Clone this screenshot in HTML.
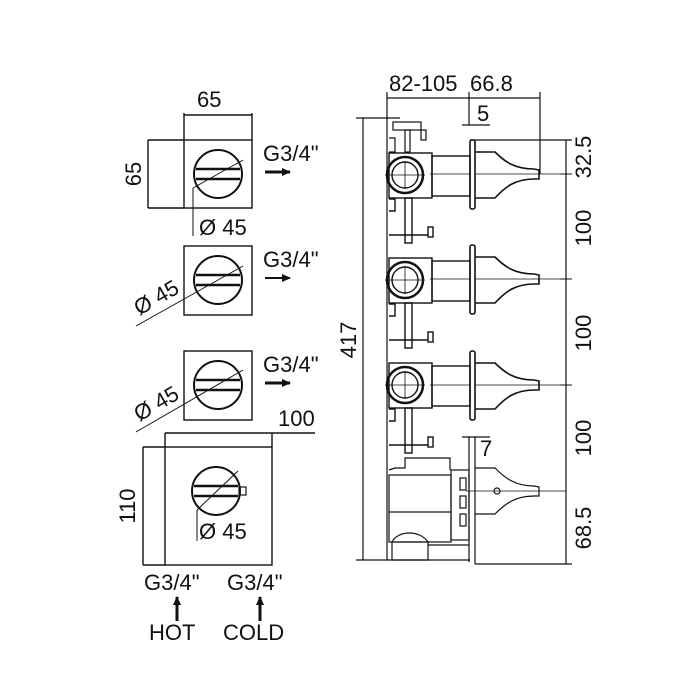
<!DOCTYPE html>
<html><head><meta charset="utf-8"><style>
html,body{margin:0;padding:0;background:#fff;}
svg{display:block;}
text{font-family:"Liberation Sans","DejaVu Sans",sans-serif;fill:#111;font-size:22px;}
</style></head><body>
<svg width="700" height="700" viewBox="0 0 700 700" xmlns="http://www.w3.org/2000/svg">
<defs>
<g id="knob" fill="none" stroke="#111">
  <circle cx="0" cy="0" r="24" stroke-width="2"/>
  <line x1="-22" y1="-5" x2="22" y2="-5" stroke-width="2.5"/>
  <line x1="-22" y1="5" x2="22" y2="5" stroke-width="2.5"/>
</g>
<g id="handle" fill="none" stroke="#111" stroke-width="1.6">
  <rect x="470" y="-34" width="5" height="69" rx="2"/>
  <path d="M475,-22 L495,-22 C505,-12 515,-5 534,-5 L539,-4 L539,5 L534,5 C515,5 505,13 495,24 L475,24"/>
  <line x1="430" y1="0" x2="470" y2="0" stroke-width="0.8"/>
  <line x1="475" y1="0" x2="570" y2="0" stroke-width="0.8"/>
</g>
<g id="valve" fill="none" stroke="#111" stroke-width="1.4">
  <rect x="389" y="-22" width="43" height="45"/>
  <rect x="432" y="-19" width="38" height="40"/>
  <circle cx="405" cy="0" r="18" stroke-width="2.5"/>
  <circle cx="405" cy="0" r="13"/>
  <line x1="385" y1="0" x2="425" y2="0" stroke-width="0.8"/>
  <line x1="405" y1="-14" x2="405" y2="14" stroke-width="0.8"/>
  <rect x="405" y="23" width="7" height="45"/>
  <line x1="389" y1="60" x2="428" y2="60"/>
  <rect x="428" y="52" width="5" height="10"/>
  <path d="M389,24 L395,24 L395,36 L389,36"/>
</g>
<marker id="ar" markerUnits="userSpaceOnUse" markerWidth="9" markerHeight="9" refX="8" refY="4.5" orient="auto"><path d="M0,0.5 L9,4.5 L0,8.5 z" fill="#111"/></marker>
</defs>

<g fill="none" stroke="#111" stroke-width="1.4">
  <rect x="184" y="140" width="68" height="68"/>
  <line x1="184" y1="113" x2="184" y2="140"/><line x1="252" y1="113" x2="252" y2="140"/>
  <line x1="184" y1="115" x2="252" y2="115"/>
  <line x1="148" y1="140" x2="184" y2="140"/><line x1="148" y1="208" x2="184" y2="208"/>
  <line x1="148" y1="140" x2="148" y2="208"/>
  <line x1="193" y1="188" x2="243" y2="160" stroke-width="1"/>
  <line x1="193" y1="188" x2="193" y2="236" stroke-width="1"/>
  <rect x="184" y="246" width="68" height="69"/>
  <line x1="136" y1="326" x2="243" y2="266" stroke-width="1"/>
  <rect x="184" y="351" width="68" height="69"/>
  <line x1="136" y1="432" x2="243" y2="370" stroke-width="1"/>
  <rect x="165" y="447" width="107" height="118"/>
  <line x1="165" y1="433" x2="165" y2="447"/><line x1="272" y1="433" x2="272" y2="447"/>
  <line x1="165" y1="433" x2="315" y2="433"/>
  <line x1="143" y1="447" x2="165" y2="447"/><line x1="143" y1="565" x2="165" y2="565"/>
  <line x1="143" y1="447" x2="143" y2="565"/>
  <line x1="197" y1="510" x2="238" y2="471" stroke-width="1"/>
  <line x1="197" y1="510" x2="197" y2="541" stroke-width="1"/>
  <rect x="239" y="487" width="7" height="8" stroke-width="1.2"/>
</g>
<use href="#knob" x="218" y="174"/>
<use href="#knob" x="218" y="280"/>
<use href="#knob" x="218" y="385"/>
<use href="#knob" x="216" y="491"/>

<text x="197" y="107">65</text>
<text transform="translate(141,174) rotate(-90)" text-anchor="middle">65</text>
<text x="199" y="235">Ø 45</text>
<text transform="translate(160,304) rotate(-30)" text-anchor="middle">Ø 45</text>
<text transform="translate(160,410) rotate(-30)" text-anchor="middle">Ø 45</text>
<text x="199" y="539">Ø 45</text>
<text x="278" y="426">100</text>
<text transform="translate(135,506) rotate(-90)" text-anchor="middle">110</text>

<text x="263" y="161">G3/4"</text>
<text x="263" y="267">G3/4"</text>
<text x="263" y="372">G3/4"</text>
<g stroke="#111" stroke-width="3" fill="none">
  <line x1="265" y1="172" x2="290" y2="172" marker-end="url(#ar)"/>
  <line x1="265" y1="278" x2="290" y2="278" stroke-width="2" marker-end="url(#ar)"/>
  <line x1="265" y1="383" x2="290" y2="383" marker-end="url(#ar)"/>
  <line x1="177" y1="621" x2="177" y2="597" marker-end="url(#ar)"/>
  <line x1="260" y1="621" x2="260" y2="597" marker-end="url(#ar)"/>
</g>
<text x="144" y="590">G3/4"</text>
<text x="227" y="590">G3/4"</text>
<text x="149" y="640">HOT</text>
<text x="223" y="640">COLD</text>

<g fill="none" stroke="#111" stroke-width="1.2">
  <line x1="387" y1="98" x2="540" y2="98"/>
  <line x1="387" y1="92" x2="387" y2="560"/>
  <line x1="469" y1="92" x2="469" y2="125"/>
  <line x1="540" y1="92" x2="540" y2="174"/>
  <line x1="462" y1="125" x2="490" y2="125"/>
  <line x1="363" y1="118" x2="363" y2="560"/>
  <line x1="356" y1="118" x2="400" y2="118"/>
  <line x1="356" y1="560" x2="470" y2="560"/>
  <line x1="566" y1="140" x2="566" y2="564"/>
  <line x1="470" y1="140" x2="572" y2="140"/>
  <line x1="475" y1="564" x2="572" y2="564"/>
  <line x1="462" y1="437" x2="490" y2="437"/>
  <line x1="469" y1="437" x2="469" y2="562"/>
  <line x1="475" y1="437" x2="475" y2="564"/>
  <rect x="393" y="122" width="28" height="8"/>
  <rect x="405" y="130" width="5" height="22"/>
  <path d="M389,138 L395,138 L395,152 L389,152"/>
  <rect x="421" y="130" width="5" height="10"/>
  <path d="M389,470 L395,468 L405,468 L405,458 L450,458 L450,470"/>
  <rect x="389" y="475" width="62" height="67"/>
  <line x1="389" y1="512" x2="451" y2="512"/>
  <rect x="451" y="470" width="18" height="70"/>
  <rect x="460" y="478" width="6" height="12"/><rect x="460" y="496" width="6" height="12"/><rect x="460" y="514" width="6" height="12"/>
  <path d="M392,542 C398,530 420,530 428,542"/>
  <rect x="392" y="542" width="36" height="18"/>
  <line x1="428" y1="545" x2="469" y2="545"/>
  <line x1="466" y1="491" x2="566" y2="491" stroke-width="0.8"/>
  <path d="M475,468 L495,468 C505,478 515,486 534,486 L539,487 L539,496 L534,496 C515,496 505,504 495,514 L475,514"/>
  <circle cx="497" cy="491" r="3"/>
</g>
<use href="#valve" x="0" y="175"/>
<use href="#valve" x="0" y="280"/>
<use href="#valve" x="0" y="385"/>
<use href="#handle" x="0" y="174"/>
<use href="#handle" x="0" y="279"/>
<use href="#handle" x="0" y="385"/>
<g stroke="#111" stroke-width="1"><line x1="560" y1="174" x2="572" y2="174"/><line x1="560" y1="279" x2="572" y2="279"/><line x1="560" y1="385" x2="572" y2="385"/></g>

<text x="389" y="91">82-105</text>
<text x="470" y="91">66.8</text>
<text x="477" y="121">5</text>
<text x="480" y="456">7</text>
<text transform="translate(356,340) rotate(-90)" text-anchor="middle">417</text>
<text transform="translate(591,157) rotate(-90)" text-anchor="middle">32.5</text>
<text transform="translate(591,228) rotate(-90)" text-anchor="middle">100</text>
<text transform="translate(591,333) rotate(-90)" text-anchor="middle">100</text>
<text transform="translate(591,438) rotate(-90)" text-anchor="middle">100</text>
<text transform="translate(591,528) rotate(-90)" text-anchor="middle">68.5</text>
</svg>
</body></html>
